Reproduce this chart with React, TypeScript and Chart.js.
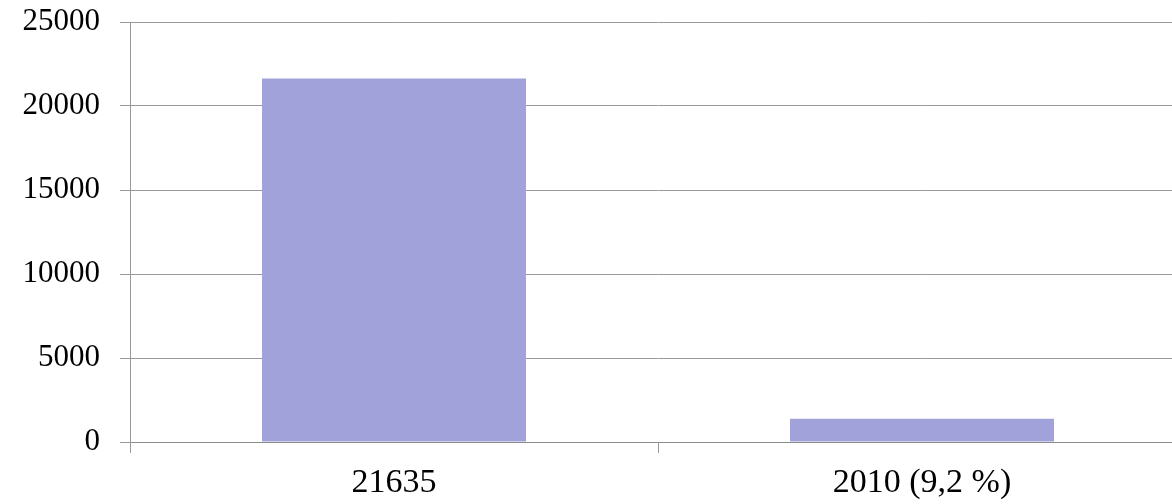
import React, { useEffect, useRef } from "react";
import { Chart, registerables } from "chart.js";

Chart.register(...registerables);

const categories = ["21635", "2010 (9,2 %)"];
const values = [21635, 1380];
const yTicks = [0, 5000, 10000, 15000, 20000, 25000];

export default function App() {
  const ref = useRef<HTMLCanvasElement | null>(null);

  useEffect(() => {
    if (!ref.current) return;
    const chart = new Chart(ref.current, {
      type: "bar",
      data: {
        labels: categories,
        datasets: [
          {
            data: values,
            backgroundColor: "#a2a2da",
            borderWidth: 0,
            categoryPercentage: 1,
            barPercentage: 0.5,
          },
        ],
      },
      options: {
        animation: false,
        responsive: true,
        maintainAspectRatio: false,
        layout: { padding: { top: 22, right: 14, left: 0, bottom: 0 } },
        plugins: { legend: { display: false }, tooltip: { enabled: false } },
        scales: {
          x: {
            offset: true,
            grid: {
              display: true,
              offset: true,
              drawOnChartArea: false,
              drawTicks: true,
              tickLength: 11,
              color: "#999999",
            },
            border: { display: true, color: "#8c8c8c", width: 1 },
            ticks: {
              color: "#000",
              padding: 10,
              font: { family: "'Liberation Serif', serif", size: 34 },
            },
            afterFit: (s: any) => {
              s.height = 62;
              s.paddingLeft = 0;
              s.paddingRight = 0;
            },
          },
          y: {
            min: yTicks[0],
            max: yTicks[yTicks.length - 1],
            afterBuildTicks: (s: any) => {
              s.ticks = yTicks.map((v) => ({ value: v }));
            },
            grid: {
              color: "#999999",
              tickLength: 10,
              drawTicks: true,
            },
            border: { display: true, color: "#999999", width: 1 },
            ticks: {
              color: "#000",
              padding: 20,
              font: { family: "'Liberation Serif', serif", size: 31 },
              callback: (v: any) => String(v),
            },
            afterFit: (s: any) => {
              s.width = 130;
              s.paddingTop = 0;
              s.paddingBottom = 0;
            },
          },
        },
      },
    });
    return () => chart.destroy();
  }, []);

  return (
    <div
      style={{
        position: "fixed",
        left: 0,
        top: 0,
        width: 1172,
        height: 504,
        overflow: "hidden",
        background: "#fff",
      }}
    >
      <div style={{ position: "relative", width: 1200, height: 504 }}>
        <canvas ref={ref} />
      </div>
    </div>
  );
}
